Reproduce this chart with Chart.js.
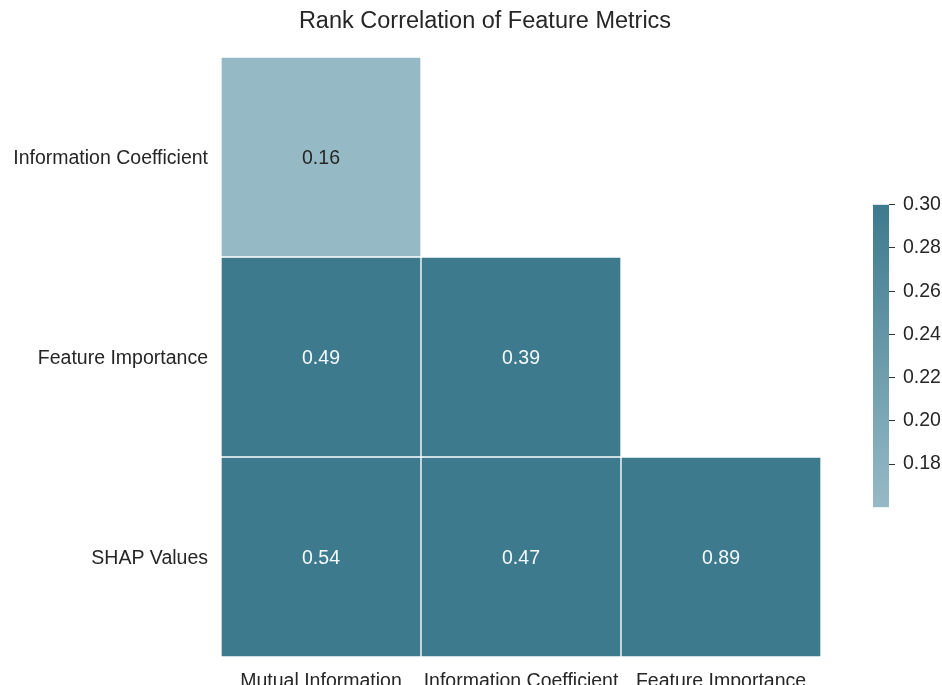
<!DOCTYPE html>
<html>
<head>
<meta charset="utf-8">
<script src="https://cdn.jsdelivr.net/npm/chart.js@4"></script>
<style>
  html, body { margin: 0; padding: 0; background: #fff; overflow: hidden; }
  #wrap { position: relative; width: 942px; height: 685px; }
  #heat { position: absolute; left: 0; top: 0; }
  #cbar { position: absolute; left: 863px; top: 185px; }
</style>
</head>
<body>
<div id="wrap">
  <canvas id="heat" width="942" height="685"></canvas>
  <canvas id="cbar" width="79" height="342"></canvas>
</div>
<script>
// heatmap data (lower triangle)
const colLabels = ['Mutual Information', 'Information Coefficient', 'Feature Importance'];
const rowLabels = ['Information Coefficient', 'Feature Importance', 'SHAP Values'];
const rowValues = [
  [0.16],
  [0.49, 0.39],
  [0.54, 0.47, 0.89]
];
const colorMin = 0.16;
const colorMax = 0.30;
const colorbarTicks = [0.18, 0.20, 0.22, 0.24, 0.26, 0.28, 0.30];

const lowColor = [150, 186, 197];
const highColor = [61, 122, 142];
const FONT = '"Liberation Sans", Arial, sans-serif';
const FS = 19.5;

function cellColor(v) {
  let t = (v - colorMin) / (colorMax - colorMin);
  t = Math.max(0, Math.min(1, t));
  const c = lowColor.map((a, i) => Math.round(a + (highColor[i] - a) * t));
  return 'rgb(' + c.join(',') + ')';
}

const datasets = rowLabels.map((row, r) => ({
  label: row,
  data: colLabels.map((c, j) => j < rowValues[r].length ? [r, r + 1] : null),
  backgroundColor: colLabels.map((c, j) => j < rowValues[r].length ? cellColor(rowValues[r][j]) : 'transparent'),
  borderColor: '#ffffff',
  borderWidth: 1,
  borderSkipped: false,
  grouped: false,
  barPercentage: 1,
  categoryPercentage: 1
}));

const annotate = {
  id: 'annotate',
  afterDatasetsDraw(chart) {
    const ctx = chart.ctx;
    ctx.save();
    ctx.font = FS + 'px ' + FONT;
    ctx.textAlign = 'center';
    ctx.textBaseline = 'middle';
    chart.data.datasets.forEach((ds, r) => {
      chart.getDatasetMeta(r).data.forEach((el, j) => {
        if (j >= rowValues[r].length) return;
        const v = rowValues[r][j];
        ctx.fillStyle = v < 0.23 ? '#262626' : '#f4f8fa';
        ctx.fillText(v.toFixed(2), el.x, (el.y + el.base) / 2 + 2);
      });
    });
    ctx.restore();
  }
};

const titlePlugin = {
  id: 'titleText',
  afterDraw(chart) {
    const ctx = chart.ctx;
    ctx.save();
    ctx.font = '23.5px ' + FONT;
    ctx.fillStyle = '#262626';
    ctx.textAlign = 'center';
    ctx.textBaseline = 'middle';
    ctx.fillText('Rank Correlation of Feature Metrics', 485, 22);
    ctx.restore();
  }
};

new Chart(document.getElementById('heat').getContext('2d'), {
  type: 'bar',
  data: { labels: colLabels, datasets: datasets },
  options: {
    responsive: false,
    animation: false,
    layout: { padding: { top: 57, right: 121, left: 0, bottom: 0 } },
    plugins: { legend: { display: false }, tooltip: { enabled: false } },
    scales: {
      x: {
        grid: { display: false },
        border: { display: false },
        ticks: { color: '#262626', font: { family: FONT, size: FS }, padding: 5, maxRotation: 0 },
        afterFit(s) { s.height = 28; }
      },
      y: {
        min: 0,
        max: 3,
        reverse: true,
        grid: { display: false },
        border: { display: false },
        afterBuildTicks(s) { s.ticks = rowLabels.map((l, i) => ({ value: i + 0.5 })); },
        ticks: {
          color: '#262626',
          font: { family: FONT, size: FS },
          padding: 5,
          labelOffset: 2,
          callback: (v) => rowLabels[Math.floor(v)]
        },
        afterFit(s) { s.width = 221; }
      }
    }
  },
  plugins: [annotate, titlePlugin]
});

// colorbar
new Chart(document.getElementById('cbar').getContext('2d'), {
  type: 'bar',
  data: {
    labels: [''],
    datasets: [{
      data: [[colorMin, colorMax]],
      backgroundColor(c) {
        const chart = c.chart;
        if (!chart.chartArea) return 'transparent';
        const y = chart.scales.y;
        const g = chart.ctx.createLinearGradient(0, y.getPixelForValue(colorMin), 0, y.getPixelForValue(colorMax));
        g.addColorStop(0, cellColor(colorMin));
        g.addColorStop(1, cellColor(colorMax));
        return g;
      },
      borderWidth: 0,
      barPercentage: 1,
      categoryPercentage: 1
    }]
  },
  options: {
    responsive: false,
    animation: false,
    layout: { padding: { top: 12, bottom: 13, left: 10, right: 0 } },
    plugins: { legend: { display: false }, tooltip: { enabled: false } },
    scales: {
      x: { display: false },
      y: {
        position: 'right',
        min: colorMin,
        max: colorMax,
        border: { display: false },
        grid: { drawOnChartArea: false, drawTicks: true, tickLength: 6, color: '#333', lineWidth: 1 },
        afterBuildTicks(s) { s.ticks = colorbarTicks.map(v => ({ value: v })); },
        ticks: {
          color: '#262626',
          font: { family: FONT, size: FS },
          padding: 8,
          callback: (v) => v.toFixed(2)
        },
        afterFit(s) { s.width = 53; }
      }
    }
  }
});
</script>
</body>
</html>
